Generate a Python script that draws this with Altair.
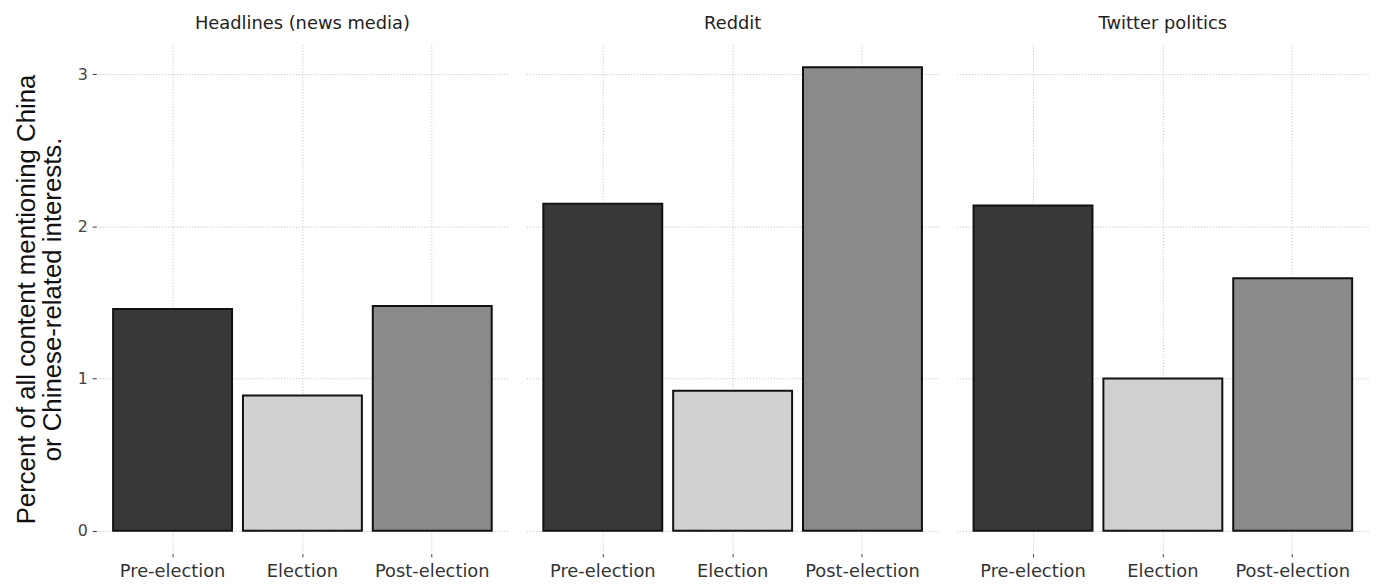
import altair as alt
import pandas as pd

sources = ["Headlines (news media)", "Reddit", "Twitter politics"]
periods = ["Pre-election", "Election", "Post-election"]
headlines_vals = [1.457, 0.889, 1.477]
reddit_vals = [2.150, 0.920, 3.046]
twitter_vals = [2.137, 1.000, 1.660]
fills = ["#383838", "#d0d0d0", "#8a8a8a"]

rows = []
for src, vals in zip(sources, [headlines_vals, reddit_vals, twitter_vals]):
    for p, v in zip(periods, vals):
        rows.append({"source": src, "period": p, "value": v})
df = pd.DataFrame(rows)

label_font = "DejaVu Sans"

chart = alt.Chart(df).mark_bar(stroke="#111111", strokeWidth=2).encode(
    x=alt.X("period:N", sort=periods, title=None,
            scale=alt.Scale(paddingInner=0.084, paddingOuter=0.13),
            axis=alt.Axis(labelAngle=0, labelFontSize=18, labelColor="#333333",
                          labelFont=label_font, domain=False, tickSize=3,
                          tickColor="#333333", labelPadding=6,
                          grid=True, gridColor="#bdbdbd", gridDash=[1, 2])),
    y=alt.Y("value:Q",
            scale=alt.Scale(domain=[-0.152, 3.198], nice=False, zero=False),
            title=["Percent of all content mentioning China", "or Chinese-related interests."],
            axis=alt.Axis(values=[0, 0.5, 1, 1.5, 2, 2.5, 3], format="d",
                          labelExpr="datum.value % 1 == 0 ? datum.label : ''",
                          tickOpacity={"condition": {"test": "datum.value % 1 != 0", "value": 0}, "value": 1},
                          labelFontSize=16, labelColor="#444444", labelFont=label_font,
                          tickSize=4, tickColor="#333333", domain=False,
                          grid=True, gridColor="#bdbdbd", gridDash=[1, 2],
                          titleFontSize=26, titleFont="Liberation Sans",
                          titleColor="#111111", titleFontWeight="normal",
                          titleLineHeight=26, titlePadding=12, labelPadding=5)),
    fill=alt.Fill("period:N", sort=periods,
                  scale=alt.Scale(domain=periods, range=fills), legend=None),
).properties(width=416, height=514).facet(
    column=alt.Column("source:N", sort=sources, title=None,
                      header=alt.Header(labelFontSize=18, labelFont=label_font,
                                        labelColor="#222222", labelPadding=11))
).properties(spacing=18).configure_view(stroke=None)

chart.save("out.html", embed_options={"renderer": "svg", "actions": False})
